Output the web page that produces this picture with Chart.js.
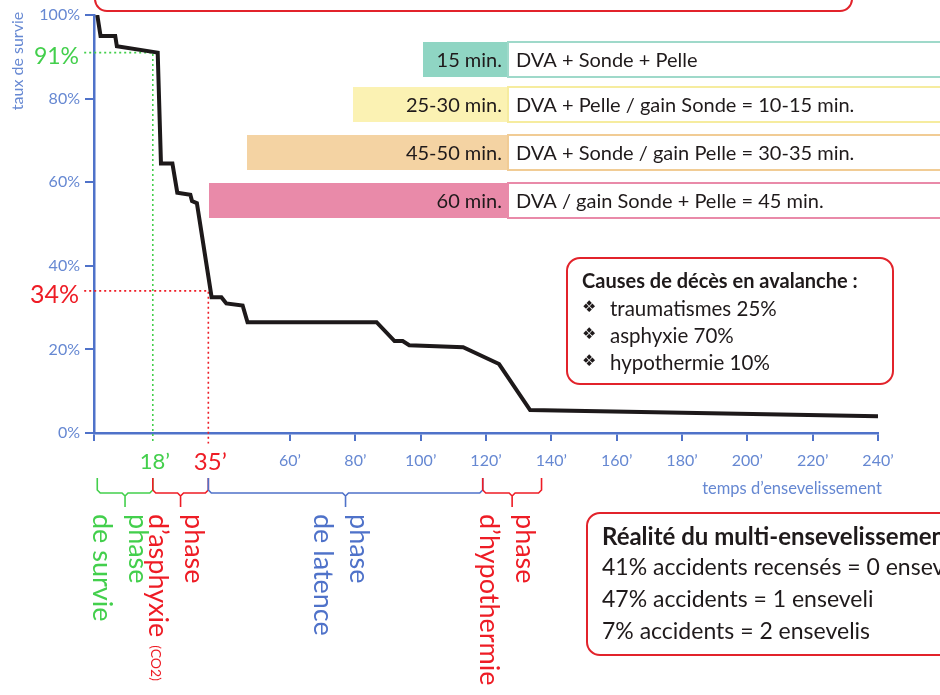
<!DOCTYPE html>
<html>
<head>
<meta charset="utf-8">
<script src="https://cdn.jsdelivr.net/npm/chart.js@4/dist/chart.umd.min.js"></script>
<style>
  html, body { margin: 0; padding: 0; background: #fff; }
  #wrap { width: 940px; height: 695px; }
</style>
</head>
<body>
<div id="wrap"><canvas id="survie" width="940" height="695"></canvas></div>
<script>
// courbe de survie (minutes / %)
var times    = [1, 2, 6.5, 7, 19.5, 20.5, 24, 25.5, 29.5, 30, 31.5, 36, 39, 40.5, 45.5, 47, 86.5, 92, 94.5, 96.5, 113, 124, 133.5, 240];
var survival = [100, 95, 95, 92.5, 91, 64.5, 64.5, 57.5, 57, 55.5, 55, 32.5, 32.5, 31, 30.5, 26.5, 26.5, 22, 22, 21, 20.5, 16.5, 5.5, 4];

// repères
var guideTimes = [18, 35];
var guideRates = [91, 34];
var guideColors = ['#43cf4c', '#ee1c25'];

// phases
var phaseBounds = [[1, 18], [18, 35], [35, 119], [119, 137]];
var phaseNames = [['phase', 'de survie'], ['phase', 'd\u2019asphyxie'], ['phase', 'de latence'], ['phase', 'd\u2019hypothermie']];
var phaseColors = ['#43cf4c', '#ee1c25', '#4f72c9', '#ee1c25'];

// temps de dégagement
var searchTimes = ['15 min.', '25-30 min.', '45-50 min.', '60 min.'];
var searchMethods = ['DVA + Sonde + Pelle', 'DVA + Pelle / gain Sonde = 10-15 min.', 'DVA + Sonde / gain Pelle = 30-35 min.', 'DVA / gain Sonde + Pelle = 45 min.'];
var searchColors = ['#8fd5c3', '#fbf2b3', '#f4d3a3', '#e98aa9'];
var searchBorders = ['#9fd9ca', '#f6ec9f', '#f1cc95', '#e98aa9'];
var searchStart = [423, 353, 247, 209];

var causes = ['traumatismes 25%', 'asphyxie 70%', 'hypothermie 10%'];
var multi = ['41% accidents recens\u00e9s = 0 enseveli', '47% accidents = 1 enseveli', '7% accidents = 2 ensevelis'];

var blue = '#4f72c9';
var tickBlue = '#6688d2';
var FONT = 'Lato, "DejaVu Sans", sans-serif';

function rrect(ctx, x, y, w, h, r) {
	ctx.beginPath();
	ctx.moveTo(x + r, y);
	ctx.arcTo(x + w, y, x + w, y + h, r);
	ctx.arcTo(x + w, y + h, x, y + h, r);
	ctx.arcTo(x, y + h, x, y, r);
	ctx.arcTo(x, y, x + w, y, r);
	ctx.closePath();
}

var decor = {
	id: 'decor',
	afterDraw: function(chart) {
		var ctx = chart.ctx;
		var xs = chart.scales.x, ys = chart.scales.y;
		ctx.save();

		// cadre rouge du haut (coupé)
		ctx.strokeStyle = '#e2232b';
		ctx.lineWidth = 2;
		rrect(ctx, 95, -40, 757, 51, 12);
		ctx.stroke();

		// titres d'axes
		ctx.fillStyle = tickBlue;
		ctx.font = '16.5px ' + FONT;
		ctx.textAlign = 'center';
		ctx.textBaseline = 'middle';
		ctx.fillText('temps d\u2019ensevelissement', 792, 489);
		ctx.save();
		ctx.translate(18, 61);
		ctx.rotate(-Math.PI / 2);
		ctx.font = '16px ' + FONT;
		ctx.fillText('taux de survie', 0, 0);
		ctx.restore();

		// labels des repères
		for (var i = 0; i < guideTimes.length; i++) {
			ctx.fillStyle = guideColors[i];
			ctx.font = (i == 0 ? '23px ' : '25px ') + FONT;
			ctx.textAlign = 'right';
			ctx.fillText(guideRates[i] + '%', 79, ys.getPixelForValue(guideRates[i]) + 4);
			ctx.textAlign = 'center';
			ctx.font = (i == 0 ? '22px ' : '24px ') + FONT;
			ctx.fillText(guideTimes[i] + '\u2019', xs.getPixelForValue(guideTimes[i]) + 2, 462);
		}

		// accolades des phases + textes verticaux
		for (var p = 0; p < phaseBounds.length; p++) {
			var a = xs.getPixelForValue(phaseBounds[p][0]);
			var b = xs.getPixelForValue(phaseBounds[p][1]);
			var m = (a + b) / 2;
			ctx.strokeStyle = phaseColors[p];
			ctx.lineWidth = 1.6;
			ctx.beginPath();
			ctx.moveTo(a, 478); ctx.lineTo(a, 490); ctx.lineTo(a + 3, 493);
			ctx.lineTo(m - 3, 493); ctx.lineTo(m, 496); ctx.lineTo(m, 507);
			ctx.moveTo(m, 496); ctx.lineTo(m + 3, 493);
			ctx.lineTo(b - 3, 493); ctx.lineTo(b, 490); ctx.lineTo(b, 478);
			ctx.stroke();

			ctx.fillStyle = phaseColors[p];
			ctx.font = '27px ' + FONT;
			ctx.textAlign = 'left';
			ctx.textBaseline = 'middle';
			ctx.save();
			ctx.translate(m + 13, 514);
			ctx.rotate(Math.PI / 2);
			ctx.fillText(phaseNames[p][0], 0, 0);
			ctx.restore();
			ctx.save();
			ctx.translate(m - 23, 514);
			ctx.rotate(Math.PI / 2);
			ctx.fillText(phaseNames[p][1], 0, 0);
			if (p == 1) {
				var w = ctx.measureText(phaseNames[p][1]).width;
				ctx.font = '14px ' + FONT;
				ctx.fillText('(CO2)', w + 8, 2);
			}
			ctx.restore();
		}

		// temps de dégagement
		for (var r = 0; r < searchTimes.length; r++) {
			var top = [42, 87, 135, 183][r];
			var h = 35;
			ctx.fillStyle = searchColors[r];
			ctx.fillRect(searchStart[r], top, 508 - searchStart[r], h);
			ctx.fillStyle = '#fff';
			ctx.fillRect(508, top, 440, h);
			ctx.strokeStyle = searchBorders[r];
			ctx.lineWidth = 2;
			ctx.strokeRect(508, top, 440, h);
			ctx.fillStyle = '#1f1a1b';
			ctx.font = '20px ' + FONT;
			ctx.textBaseline = 'middle';
			ctx.textAlign = 'right';
			ctx.fillText(searchTimes[r], 502, top + h / 2 + 1);
			ctx.textAlign = 'left';
			ctx.fillText(searchMethods[r], 516, top + h / 2 + 1);
		}

		// causes de décès
		ctx.strokeStyle = '#e2232b';
		ctx.lineWidth = 2;
		rrect(ctx, 567, 258, 326, 126, 13);
		ctx.fillStyle = '#fff';
		ctx.fill();
		ctx.stroke();
		ctx.fillStyle = '#1f1a1b';
		ctx.textAlign = 'left';
		ctx.font = 'bold 20px ' + FONT;
		ctx.fillText('Causes de d\u00e9c\u00e8s en avalanche :', 582, 282);
		for (var c = 0; c < causes.length; c++) {
			ctx.font = '16px "DejaVu Sans", sans-serif';
			ctx.fillText('\u2756', 582, 308 + c * 27);
			ctx.font = '20.5px ' + FONT;
			ctx.fillText(causes[c], 610, 309 + c * 27);
		}

		// multi-ensevelissement
		rrect(ctx, 587, 513, 380, 142, 13);
		ctx.fillStyle = '#fff';
		ctx.fill();
		ctx.stroke();
		ctx.fillStyle = '#1f1a1b';
		ctx.font = 'bold 24px ' + FONT;
		ctx.fillText('R\u00e9alit\u00e9 du multi-ensevelissement', 602, 537);
		ctx.font = '23px ' + FONT;
		for (var k = 0; k < multi.length; k++) {
			ctx.fillText(multi[k], 602, 568 + k * 32);
		}

		ctx.restore();
	}
};

var lineData = [];
for (var i = 0; i < times.length; i++) lineData.push({x: times[i], y: survival[i]});

var datasets = [{
	data: lineData,
	borderColor: '#1d191a',
	borderWidth: 4,
	pointRadius: 0,
	tension: 0,
	borderJoinStyle: 'miter',
	order: 0
}];
for (var g = 0; g < guideTimes.length; g++) {
	datasets.push({
		data: [{x: -3, y: guideRates[g]}, {x: guideTimes[g], y: guideRates[g]}, {x: guideTimes[g], y: -2.5}],
		borderColor: guideColors[g],
		borderWidth: 1.6,
		borderDash: [2, 3],
		pointRadius: 0,
		tension: 0,
		clip: false,
		order: 1
	});
}

new Chart(document.getElementById('survie'), {
	type: 'line',
	data: { datasets: datasets },
	options: {
		responsive: false,
		animation: false,
		layout: { padding: { top: 15, right: 62, left: 0, bottom: 0 } },
		plugins: { legend: { display: false }, tooltip: { enabled: false } },
		scales: {
			x: {
				type: 'linear', min: 0, max: 240,
				afterFit: function(s) { s.height = 262; },
				border: { color: blue, width: 2.5 },
				grid: {
					drawOnChartArea: false, tickLength: 8, lineWidth: 2,
					color: function(c) { var v = c.tick ? c.tick.value : 0; return (v == 20 || v == 40) ? 'rgba(0,0,0,0)' : blue; }
				},
				ticks: {
					stepSize: 20, padding: 10, color: tickBlue, maxRotation: 0,
					font: { family: 'Lato', size: 16 },
					callback: function(v) { return v >= 60 ? v + '\u2019' : ''; }
				}
			},
			y: {
				min: 0, max: 100,
				afterFit: function(s) { s.width = 94; },
				border: { color: blue, width: 2.5 },
				grid: { drawOnChartArea: false, tickLength: 9, lineWidth: 2, color: blue },
				ticks: {
					stepSize: 20, padding: 5, color: tickBlue,
					font: { family: 'Lato', size: 16 },
					callback: function(v) { return v + '%'; }
				}
			}
		}
	},
	plugins: [decor]
});
</script>
</body>
</html>
